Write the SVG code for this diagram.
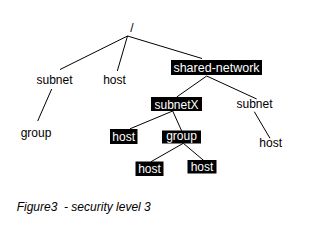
<svg xmlns="http://www.w3.org/2000/svg" width="314" height="229" viewBox="0 0 314 229">
<style>
text{font-family:"Liberation Sans",Arial,sans-serif;font-size:12px;text-anchor:middle;fill:#000}
.inv text{fill:#fff}
.inv rect{fill:#000}
.edges line{stroke:#000;stroke-width:1}
.cap{font-style:italic;text-anchor:start}
</style>
<rect x="0" y="0" width="314" height="229" fill="#fff"/>
<g class="edges">
<line x1="127.5" y1="36" x2="60" y2="69.5"/>
<line x1="127.5" y1="36" x2="117.3" y2="71"/>
<line x1="127.5" y1="36" x2="202" y2="58.5"/>
<line x1="206.7" y1="76" x2="176.7" y2="97"/>
<line x1="206.7" y1="76" x2="256.7" y2="99"/>
<line x1="51.7" y1="89" x2="37.7" y2="121"/>
<line x1="254.3" y1="111.7" x2="270" y2="138.3"/>
<line x1="172.7" y1="111" x2="130" y2="128.8"/>
<line x1="172.7" y1="111" x2="181.7" y2="131"/>
<line x1="183.3" y1="143.3" x2="151" y2="161.7"/>
<line x1="183.3" y1="143.3" x2="204.3" y2="161"/>
</g>
<g id="root"><text x="132" y="32">/</text></g>
<g id="subnet1"><text x="54.5" y="84">subnet</text></g>
<g id="host1"><text x="114.5" y="84">host</text></g>
<g id="shared-network" class="inv"><rect x="171" y="60" width="91" height="15"/><text x="216.5" y="72" style="font-size:12.5px">shared-network</text></g>
<g id="subnetX" class="inv"><rect x="151" y="97" width="51" height="14"/><text x="176.5" y="108.5">subnetX</text></g>
<g id="subnet2"><text x="254.5" y="108">subnet</text></g>
<g id="group1"><text x="36" y="137">group</text></g>
<g id="host2"><text x="270.7" y="147">host</text></g>
<g id="hostL" class="inv"><rect x="110" y="129" width="27.5" height="15"/><text x="123.7" y="141">host</text></g>
<g id="groupB" class="inv"><rect x="162" y="130.5" width="39" height="13"/><text x="181.5" y="140">group</text></g>
<g id="hostBL" class="inv"><rect x="135.5" y="161.5" width="28" height="14.5"/><text x="149.5" y="173">host</text></g>
<g id="hostBR" class="inv"><rect x="187.5" y="160" width="29" height="13.5"/><text x="202" y="171">host</text></g>
<text class="cap" x="16.7" y="210.5" xml:space="preserve">Figure3  - security level 3</text>
</svg>
